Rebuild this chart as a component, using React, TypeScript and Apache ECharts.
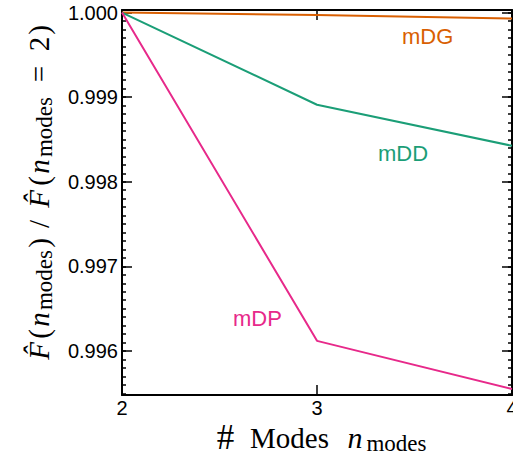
import React, { useEffect, useRef } from "react";
import * as echarts from "echarts";

const modes = [2, 3, 4];
const mDG = [1.0, 0.99997, 0.99993];
const mDD = [1.0, 0.99891, 0.998425];
const mDP = [1.0, 0.99612, 0.99555];
const yMajorTicks = [0.996, 0.997, 0.998, 0.999, 1.0];
const xTicks = [2, 3, 4];
const seriesNames = ["mDG", "mDD", "mDP"];
const colors = ["#d95f02", "#1b9e77", "#e7298a"];

const Y_MIN = 0.99548;
const Y_MAX = 1.00003;

const yMinorTicks: number[] = [];
for (let k = 9955; k <= 10000; k++) yMinorTicks.push(k / 10000);

const GRID = { left: 122, right: 1, top: 10, bottom: 67, outerBoundsMode: "none", containLabel: false };
const SANS = "Liberation Sans";
const SERIF = "Liberation Serif";

export default function App() {
  const ref = useRef<HTMLDivElement>(null);
  useEffect(() => {
    if (!ref.current) return;
    const chart = echarts.init(ref.current, undefined, { renderer: "svg" });
    const line = { color: "#000", width: 2 };
    const tickStyle = { color: "#000", width: 1.5 };
    const xBase = { fontFamily: SERIF, fontSize: 29, lineHeight: 34, color: "#000" };
    const xRich = {
      h: { ...xBase, fontSize: 35, width: 20 },
      m: { ...xBase, width: 108 },
      i: { ...xBase, fontStyle: "italic", fontSize: 30, width: 23 },
      s: { fontFamily: SERIF, fontSize: 23, lineHeight: 25, verticalAlign: "bottom", color: "#000", width: 60 },
    };
    const yBase = { fontFamily: SERIF, fontSize: 29, lineHeight: 34, color: "#000" };
    const yRich = {
      F: { ...yBase, fontStyle: "italic", width: 22 },
      G: { ...yBase, fontStyle: "italic", width: 24 },
      o: { ...yBase, width: 12 },
      n: { ...yBase, fontStyle: "italic", width: 17 },
      s: { fontFamily: SERIF, fontSize: 23, lineHeight: 24, verticalAlign: "bottom", color: "#000", width: 62 },
      c: { ...yBase, width: 12 },
      d: { ...yBase, width: 26 },
      e: { ...yBase, width: 44 },
      t: { ...yBase, width: 16 },
      z: { ...yBase, width: 12 },
    };
    chart.setOption({
      animation: false,
      grid: [
        { ...GRID, show: false },
        { ...GRID, show: false },
      ],
      xAxis: [
        {
          type: "value", gridIndex: 0, min: 2, max: 4, interval: 1, position: "bottom",
          axisLine: { lineStyle: line },
          axisTick: { inside: true, length: 10, lineStyle: tickStyle, customValues: xTicks },
          axisLabel: { fontFamily: SANS, fontSize: 20, color: "#000", margin: 3, customValues: xTicks },
          splitLine: { show: false },
        },
        {
          type: "value", gridIndex: 0, min: 2, max: 4, interval: 1, position: "top",
          axisLine: { lineStyle: line },
          axisTick: { inside: true, length: 10, lineStyle: tickStyle },
          axisLabel: { show: false },
          splitLine: { show: false },
        },
        {
          type: "value", gridIndex: 1, min: 2, max: 4, show: false,
        },
      ],
      yAxis: [
        {
          type: "value", gridIndex: 0, min: Y_MIN, max: Y_MAX, position: "left",
          axisLine: { show: true, lineStyle: line },
          axisTick: { show: true, inside: true, length: 10, lineStyle: tickStyle, customValues: yMajorTicks },
          axisLabel: {
            fontFamily: SANS, fontSize: 20, color: "#000", margin: 4,
            customValues: yMajorTicks,
            formatter: (v: number) => v.toFixed(3),
          },
          splitLine: { show: false },
        },
        {
          type: "value", gridIndex: 0, min: Y_MIN, max: Y_MAX, position: "right",
          axisLine: { show: true, lineStyle: line },
          axisTick: { show: true, inside: true, length: 10, lineStyle: tickStyle, customValues: yMajorTicks },
          axisLabel: { show: false },
          splitLine: { show: false },
        },
        {
          type: "value", gridIndex: 1, min: Y_MIN, max: Y_MAX, position: "left",
          axisLine: { show: false },
          axisTick: { show: true, inside: true, length: 4, lineStyle: tickStyle, customValues: yMinorTicks },
          axisLabel: { show: false },
          splitLine: { show: false },
        },
        {
          type: "value", gridIndex: 1, min: Y_MIN, max: Y_MAX, position: "right",
          axisLine: { show: false },
          axisTick: { show: true, inside: true, length: 4, lineStyle: tickStyle, customValues: yMinorTicks },
          axisLabel: { show: false },
          splitLine: { show: false },
        },
      ],
      series: [mDG, mDD, mDP].map((vals, i) => ({
        name: seriesNames[i],
        type: "line",
        xAxisIndex: 0,
        yAxisIndex: 0,
        symbol: "none",
        lineStyle: { color: colors[i], width: 2 },
        data: vals.map((v, j) => [modes[j], v]),
        z: 1,
      })),
      graphic: [
        {
          type: "text", x: 402, y: 36,
          style: { text: seriesNames[0], fill: colors[0], font: `22px "${SANS}"`, textAlign: "left", textVerticalAlign: "middle" },
        },
        {
          type: "text", x: 378, y: 153,
          style: { text: seriesNames[1], fill: colors[1], font: `22px "${SANS}"`, textAlign: "left", textVerticalAlign: "middle" },
        },
        {
          type: "text", x: 233, y: 318,
          style: { text: seriesNames[2], fill: colors[2], font: `22px "${SANS}"`, textAlign: "left", textVerticalAlign: "middle" },
        },
        {
          type: "text", x: 321, y: 437.5,
          style: {
            text: "{h|#}{m|Modes}{i|n}{s|modes}",
            rich: xRich,
            textAlign: "center", textVerticalAlign: "middle",
          },
        },
        {
          type: "text", x: 39, y: 193, rotation: Math.PI / 2,
          style: {
            text: "{F|F\u0302}{o|(}{n|n}{s|modes}{c|)}{d|/}{G|F\u0302}{o|(}{n|n}{s|modes}{e|=}{t|2}{z|)}",
            rich: yRich,
            textAlign: "center", textVerticalAlign: "middle",
          },
        },
      ],
    });
    return () => chart.dispose();
  }, []);
  return (
    <div
      ref={ref}
      style={{ position: "fixed", left: 0, top: 0, width: 513, height: 462, background: "#fff" }}
    />
  );
}
